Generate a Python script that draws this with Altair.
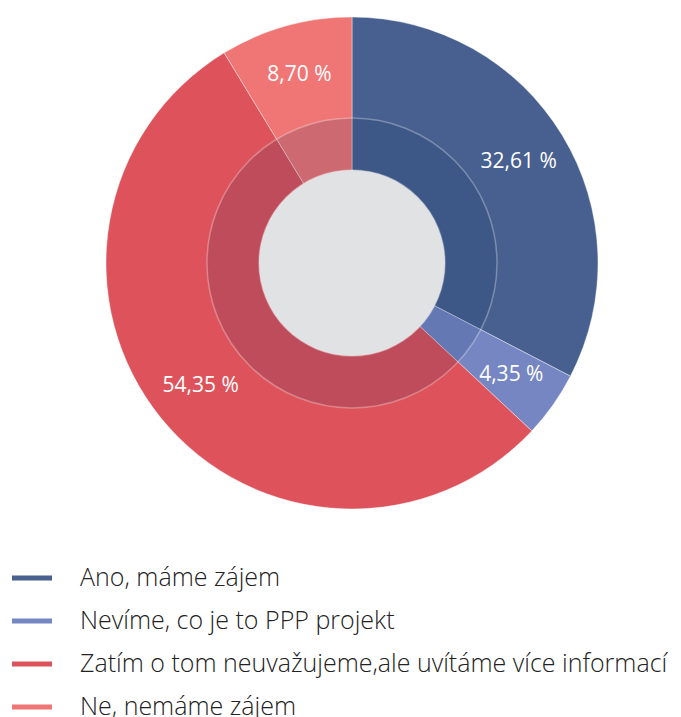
import math
import altair as alt
import pandas as pd

categories = ["Ano, máme zájem", "Nevíme, co je to PPP projekt",
              "Zatím o tom neuvažujeme,ale uvítáme více informací", "Ne, nemáme zájem"]
values = [32.61, 4.35, 54.35, 8.70]
labels = ["32,61 %", "4,35 %", "54,35 %", "8,70 %"]
colors = ["#47608f", "#7586c3", "#de535b", "#ef7675"]

df = pd.DataFrame({"cat": categories, "value": values, "label": labels,
                   "order": list(range(len(categories)))})
dummy = pd.DataFrame({"k": [1]})

CX, CY = 344, 255
R_OUT, R_MID, R_IN = 246, 145, 93

base = alt.Chart(df).encode(
    theta=alt.Theta("value:Q", stack=True),
    order=alt.Order("order:Q"),
    x=alt.value(CX), y=alt.value(CY),
)

outer = base.mark_arc(outerRadius=R_OUT, innerRadius=0, stroke="white", strokeWidth=0.4).encode(
    color=alt.Color("cat:N", scale=alt.Scale(domain=categories, range=colors),
                    sort=categories,
                    legend=alt.Legend(title=None, orient="none", legendX=4, legendY=550,
                                      direction="vertical",
                                      symbolType="M-1,-0.125H1V0.125H-1Z",
                                      symbolSize=1600, symbolStrokeWidth=0,
                                      labelFont="Open Sans", labelFontSize=25,
                                      labelFontWeight=300, labelColor="#222222",
                                      labelOffset=28, rowPadding=10, labelLimit=700))
)

ring = alt.Chart(dummy).mark_arc(
    theta=0, theta2=2 * math.pi, outerRadius=R_MID, innerRadius=R_IN,
    fill="#00205a", fillOpacity=0.14, stroke="white", strokeOpacity=0.3, strokeWidth=1.5
).encode(x=alt.value(CX), y=alt.value(CY))

center = alt.Chart(dummy).mark_arc(
    theta=0, theta2=2 * math.pi, outerRadius=R_IN, innerRadius=0, fill="#e1e2e4"
).encode(x=alt.value(CX), y=alt.value(CY))

text = base.mark_text(radius=195, font="Open Sans", fontSize=21, color="white").encode(
    text="label:N")

chart = alt.layer(outer, ring, center, text).properties(
    width=665, height=730, padding=0, autosize=alt.AutoSizeParams(type="none")
).configure_view(stroke=None)

chart.save("out.html", embed_options={"renderer": "svg", "actions": False})
